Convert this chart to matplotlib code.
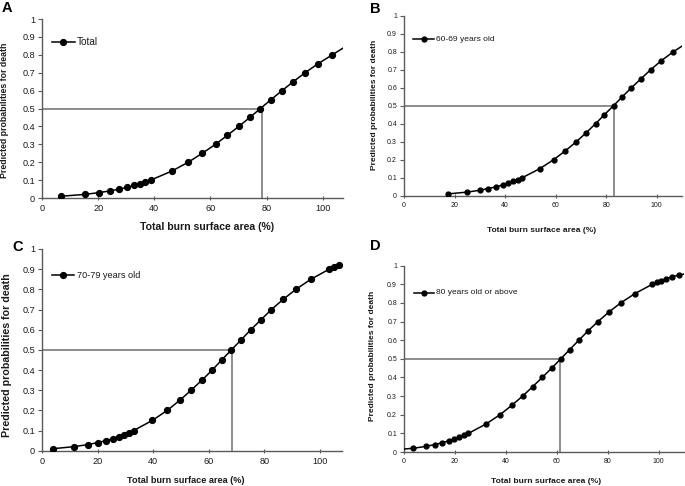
import matplotlib
matplotlib.use("Agg")
import matplotlib.pyplot as plt

plt.rcParams["font.family"] = ["Liberation Sans", "DejaVu Sans"]

# --- data ----------------------------------------------------------------
prob_levels = [0.01, 0.02, 0.03, 0.04, 0.05, 0.06, 0.07, 0.08, 0.09, 0.10,
               0.15, 0.20, 0.25, 0.30, 0.35, 0.40, 0.45, 0.50, 0.55, 0.60,
               0.65, 0.70, 0.75, 0.80]

total_x = [6.8, 15.2, 20.3, 24.3, 27.6, 30.4, 32.8, 34.9, 36.8, 38.7,
           46.2, 52.1, 57.1, 61.8, 66.0, 70.1, 74.0, 77.8, 81.6, 85.5,
           89.5, 93.7, 98.3, 103.4]
total_y = prob_levels
total_tail = ([108.0], [0.845])

age60_x = [17.4, 25.0, 29.9, 33.4, 36.6, 39.2, 41.3, 43.3, 45.1, 46.8,
           53.7, 59.2, 63.9, 68.2, 72.1, 75.8, 79.3, 82.9, 86.4, 90.0,
           93.8, 97.6, 101.8, 106.6]
age60_y = prob_levels
age60_tail = ([111.0], [0.84])

age70_x = [4.0, 11.5, 16.4, 20.0, 22.9, 25.4, 27.6, 29.5, 31.3, 33.0,
           39.7, 45.1, 49.6, 53.7, 57.6, 61.3, 64.7, 68.2, 71.7, 75.2,
           78.9, 82.6, 86.8, 91.4, 96.8, 103.4, 105.2, 106.9]
age70_y = prob_levels + [0.85, 0.90, 0.91, 0.92]
age70_tail = ([108.5], [0.925])

age80_x = [3.7, 8.5, 12.1, 15.1, 17.6, 19.8, 21.8, 23.6, 25.3,
           32.2, 37.7, 42.3, 46.6, 50.5, 54.3, 58.0, 61.6, 65.1, 68.7,
           72.3, 76.2, 80.4, 85.1, 90.7, 97.5, 99.2, 101.0, 103.0, 105.2,
           107.9]
age80_y = [0.02, 0.03, 0.04, 0.05, 0.06, 0.07, 0.08, 0.09, 0.10,
           0.15, 0.20, 0.25, 0.30, 0.35, 0.40, 0.45, 0.50, 0.55, 0.60,
           0.65, 0.70, 0.75, 0.80, 0.85, 0.90, 0.91, 0.92, 0.93, 0.94,
           0.95]
age80_head = ([0.0], [0.016])
age80_tail = ([111.0], [0.957])

ld50 = {"A": 78.2, "B": 83.2, "C": 68.5, "D": 61.4}
labels = {"A": "Total", "B": "60-69 years old",
          "C": "70-79 years old", "D": "80 years old or above"}
y_ticks = [0, 0.1, 0.2, 0.3, 0.4, 0.5, 0.6, 0.7, 0.8, 0.9, 1]
y_ticklabels = ["0", "0.1", "0.2", "0.3", "0.4", "0.5", "0.6", "0.7", "0.8", "0.9", "1"]
x_ticks = [0, 20, 40, 60, 80, 100]
x_title = "Total burn surface area (%)"
y_title = "Predicted probabilities for death"

# --- layout (pixel positions measured on the reference) --------------------
W, H = 685, 486
AX_GRAY = "#5a5a5a"
REF_GRAY = "#6e6e6e"
TXT = "#1a1a1a"


def px_rect(left, top, right, bottom):
    return [left / W, (H - bottom) / H, (right - left) / W, (bottom - top) / H]


panels = {
    "A": dict(rect=px_rect(42, 19, 343, 198), xmax=107.2, fs=6.6, ms=4.2,
              leg_fs=7.2, leg_y=0.87, xl=(207, 227, 7.6), yl=(5, 110, 6.3)),
    "B": dict(rect=px_rect(404, 15.7, 682, 195.7), xmax=110, fs=5.0, ms=3.5,
              leg_fs=6.1, leg_y=0.87, xl=(542, 230, 6.05), yl=(375, 105, 6.0)),
    "C": dict(rect=px_rect(42, 249, 342, 450.7), xmax=108, fs=6.6, ms=4.2,
              leg_fs=6.6, leg_y=0.87, xl=(186, 480, 6.6), yl=(7, 355, 7.7)),
    "D": dict(rect=px_rect(404, 265.7, 684, 452), xmax=110, fs=5.0, ms=3.5,
              leg_fs=6.0, leg_y=0.855, xl=(546, 481, 6.1), yl=(373, 356, 6.0)),
}

series = {
    "A": (total_x, total_y, None, total_tail),
    "B": (age60_x, age60_y, None, age60_tail),
    "C": (age70_x, age70_y, None, age70_tail),
    "D": (age80_x, age80_y, age80_head, age80_tail),
}

letter_pos = {"A": (2, 1), "B": (370, 2), "C": (12, 240), "D": (370, 239)}

fig = plt.figure(figsize=(W / 100, H / 100), dpi=100)

for key, p in panels.items():
    ax = fig.add_axes(p["rect"])
    xs, ys, head, tail = series[key]
    line_x = list(xs)
    line_y = list(ys)
    if head:
        line_x = head[0] + line_x
        line_y = head[1] + line_y
    if tail:
        line_x = line_x + tail[0]
        line_y = line_y + tail[1]
    ax.plot(line_x, line_y, color="black", lw=1.1, zorder=3)
    ax.plot(xs, ys, "o", color="black", ms=p["ms"], zorder=4)

    # legend: short line with a centred marker, then the label
    ly = p["leg_y"]
    ax.plot([0.034, 0.108], [ly, ly], transform=ax.transAxes,
            color="black", lw=1.1, zorder=4)
    ax.plot([0.071], [ly], "o", transform=ax.transAxes, color="black",
            ms=p["ms"], zorder=5)
    ax.text(0.116, ly, labels[key], transform=ax.transAxes, ha="left",
            va="center", fontsize=p["leg_fs"], color=TXT)

    x50 = ld50[key]
    ax.plot([0, x50], [0.5, 0.5], color=REF_GRAY, lw=1.1, zorder=2)
    ax.plot([x50, x50], [0, 0.5], color=REF_GRAY, lw=1.1, zorder=2)

    ax.set_xlim(0, p["xmax"])
    ax.set_ylim(0, 1)
    ax.set_xticks(x_ticks)
    ax.set_yticks(y_ticks)
    ax.set_yticklabels(y_ticklabels)
    for s in ("top", "right"):
        ax.spines[s].set_visible(False)
    for s in ("left", "bottom"):
        ax.spines[s].set_color(AX_GRAY)
        ax.spines[s].set_linewidth(1.0)
    ax.tick_params(axis="y", direction="out", length=3, width=0.8,
                   color=AX_GRAY, labelsize=p["fs"], labelcolor=TXT, pad=2)
    ax.tick_params(axis="x", direction="inout", length=3, width=0.8,
                   color=AX_GRAY, labelsize=p["fs"], labelcolor=TXT, pad=3)

    xx, xy, xfs = p["xl"]
    fig.text(xx / W, 1 - xy / H, x_title, ha="center", va="center",
             fontsize=xfs, fontweight="bold", color=TXT)
    yx, yy, yfs = p["yl"]
    fig.text(yx / W, 1 - yy / H, y_title, ha="center", va="center",
             rotation=90, fontsize=yfs, fontweight="bold", color=TXT)

    lx, lyy = letter_pos[key]
    fig.text(lx / W, 1 - lyy / H, key, ha="left", va="top", fontsize=10.5,
             fontweight="bold", color="black")

fig.savefig("out.png", dpi=100)
